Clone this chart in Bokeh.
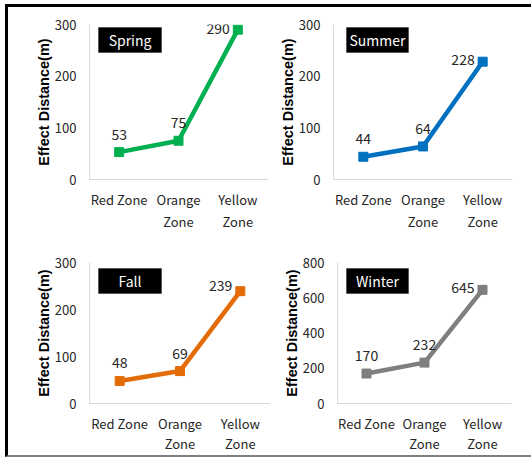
from bokeh.plotting import figure
from bokeh.models import FixedTicker, LinearAxis, BoxAnnotation, Range1d
from bokeh.layouts import column, row
from bokeh.embed import file_html
from bokeh.resources import INLINE
from bokeh.core.properties import value

# ---- data -------------------------------------------------------------
zones = ["Red Zone", "Orange Zone", "Yellow Zone"]
zone_line1 = ["Red Zone", "Orange", "Yellow"]
zone_line2 = ["", "Zone", "Zone"]

seasons = ["Spring", "Summer", "Fall", "Winter"]
spring = [53, 75, 290]
summer = [44, 64, 228]
fall = [48, 69, 239]
winter = [170, 232, 645]

ticks_small = [0, 100, 200, 300]
ticks_winter = [0, 200, 400, 600, 800]
y_title = "Effect Distance(m)"

# ---- styling ----------------------------------------------------------
FONT = "Noto Sans CJK KR"
TEXT_COLOR = "#262626"
AXIS_COLOR = "#D9D9D9"

# zone slots: one unit per zone, markers in the middle of each slot
xs = [i + 0.5 for i in range(len(zones))]


def px_box(p_w, p_h, ticks, box):
    """Convert a box given in pixels from the frame's top-left into data units."""
    fx, fy, bw, bh = box
    x_per_px = len(zones) / p_w
    y_per_px = (ticks[-1] - ticks[0]) / p_h
    left = fx * x_per_px
    right = (fx + bw) * x_per_px
    top = ticks[-1] - fy * y_per_px
    bottom = ticks[-1] - (fy + bh) * y_per_px
    return left, right, top, bottom


def panel(name, vals, color, ticks, width, height, borders, box, side_dy, gap2):
    left, right, top, bottom = borders
    frame_w = width - left - right
    frame_h = height - top - bottom
    p = figure(x_range=Range1d(0, len(zones)), y_range=Range1d(ticks[0], ticks[-1]),
               width=width, height=height,
               min_border_left=left, min_border_right=right,
               min_border_top=top, min_border_bottom=bottom,
               x_axis_location=None,
               output_backend="svg", toolbar_location=None)
    p.outline_line_color = None
    p.background_fill_color = "white"
    p.border_fill_color = "white"
    p.xgrid.visible = False
    p.ygrid.visible = False

    yax = p.yaxis[0]
    yax.ticker = FixedTicker(ticks=ticks)
    yax.axis_line_color = AXIS_COLOR
    yax.major_tick_line_color = None
    yax.minor_tick_line_color = None
    yax.major_tick_out = 0
    yax.major_tick_in = 0
    yax.minor_tick_out = 0
    yax.major_label_standoff = 13
    yax.major_label_text_font = FONT
    yax.major_label_text_font_size = "13px"
    yax.major_label_text_color = TEXT_COLOR
    yax.axis_label = y_title
    yax.axis_label_text_font = "Liberation Sans"
    yax.axis_label_text_font_style = "bold"
    yax.axis_label_text_font_size = "14.5px"
    yax.axis_label_text_color = "black"
    yax.axis_label_standoff = 0

    common = dict(ticker=FixedTicker(ticks=xs),
                  major_tick_line_color=None, minor_tick_line_color=None,
                  major_tick_out=0, major_tick_in=0, minor_tick_out=0,
                  major_label_text_font=FONT, major_label_text_font_size="13px",
                  major_label_text_color=TEXT_COLOR)
    ax1 = LinearAxis(axis_line_color=AXIS_COLOR, major_label_standoff=10,
                     major_label_overrides=dict(zip(xs, zone_line1)), **common)
    ax2 = LinearAxis(axis_line_color=None, major_label_standoff=gap2,
                     major_label_overrides=dict(zip(xs, zone_line2)), **common)
    p.add_layout(ax1, "below")
    p.add_layout(ax2, "below")

    p.line(xs, vals, line_color=color, line_width=4.5)
    p.scatter(xs, vals, marker="square", size=9, color=color)

    labels = [str(v) for v in vals]
    p.text(xs[:2], vals[:2], text=labels[:2], y_offset=-18,
           text_align="center", text_baseline="middle",
           text_font=value(FONT), text_font_size="14px", text_color=TEXT_COLOR)
    p.text(xs[2:], vals[2:], text=labels[2:], x_offset=-8, y_offset=side_dy,
           text_align="right", text_baseline="middle",
           text_font=value(FONT), text_font_size="14px", text_color=TEXT_COLOR)

    bl, br, bt, bb = px_box(frame_w, frame_h, ticks, box)
    p.add_layout(BoxAnnotation(left=bl, right=br, top=bt, bottom=bb,
                               fill_color="black", fill_alpha=1.0,
                               line_color="black", level="underlay"))
    p.text([(bl + br) / 2], [(bt + bb) / 2], text=[name],
           text_align="center", text_baseline="middle",
           text_font=value(FONT), text_font_size="14px", text_color="white")
    return p


p1 = panel(seasons[0], spring, "#00B050", ticks_small, 262, 233,
           (81, 3, 17, 61), (9, 3, 63, 25), -1, 0)
p2 = panel(seasons[1], summer, "#0070C0", ticks_small, 261, 233,
           (63, 19, 17, 61), (13, 3, 62, 25), -2, 0)
p3 = panel(seasons[2], fall, "#E36C09", ticks_small, 262, 215,
           (81, 0, 22, 52), (9, 6, 63, 25), -6, -2)
p4 = panel(seasons[3], winter, "#7F7F7F", ticks_winter, 261, 215,
           (67, 20, 22, 52), (9, 6, 62, 25), -2, -2)

layout = column(row(p1, p2), row(p3, p4),
                styles={"border-top": "3px solid black",
                        "border-left": "3px solid black",
                        "border-bottom": "2px solid #7F7F7F",
                        "margin-left": "5px", "margin-top": "4px"})

open("out.html", "w").write(file_html(layout, INLINE))
